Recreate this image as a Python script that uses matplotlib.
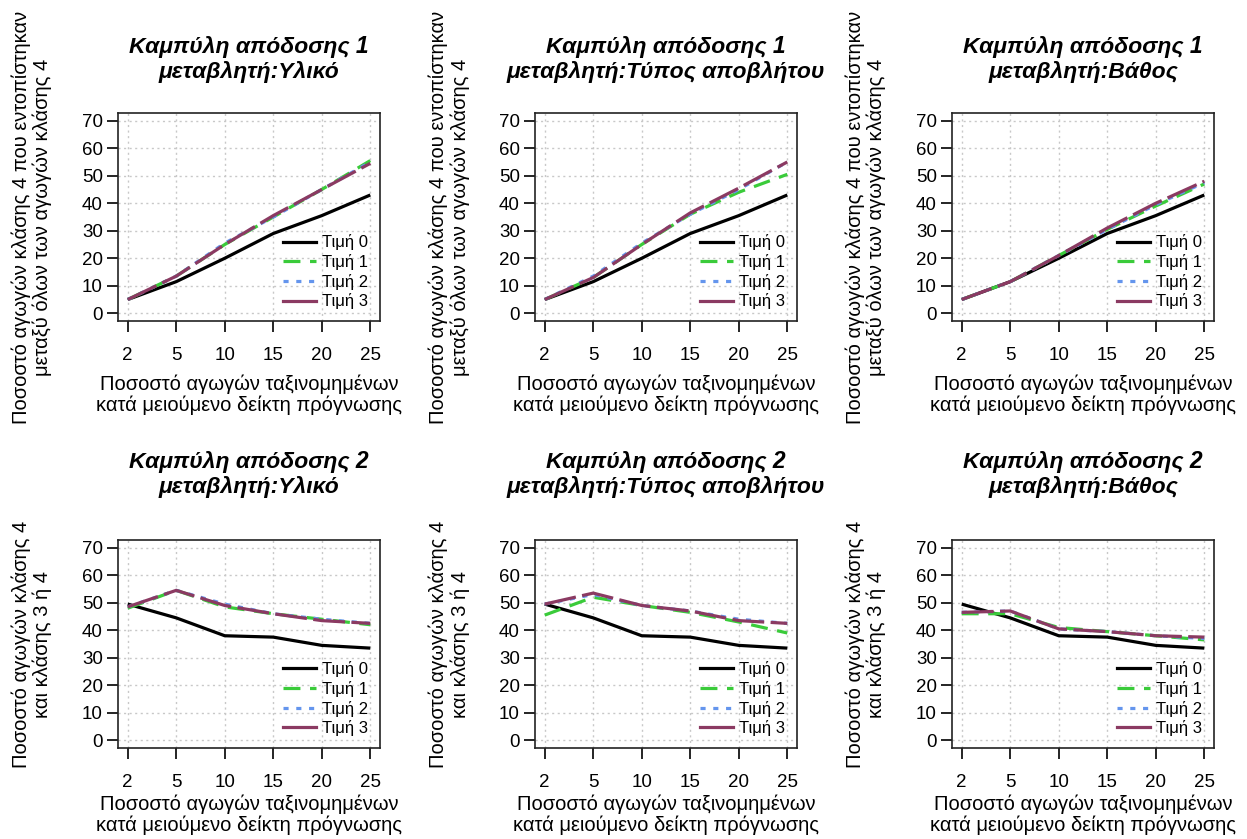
import matplotlib
matplotlib.use("Agg")
import matplotlib.pyplot as plt
from matplotlib.lines import Line2D

plt.rcParams['font.family'] = ['Liberation Sans', 'DejaVu Sans']

# x κατηγορίες (ποσοστό αγωγών)
x_labels = ["2", "5", "10", "15", "20", "25"]
legend_labels = ["Τιμή 0", "Τιμή 1", "Τιμή 2", "Τιμή 3"]
variables = ["Υλικό", "Τύπος αποβλήτου", "Βάθος"]

# Καμπύλη απόδοσης 1
c1_base = [5, 11.5, 20, 29, 35.5, 43]
c1_mat_1 = [5, 13.5, 25, 35, 45, 55.5]
c1_mat_2 = [5, 13.5, 25.5, 35, 45, 55]
c1_mat_3 = [5, 13.5, 25, 35.5, 45, 54.5]
c1_type_1 = [5, 13, 25, 36, 44, 50.5]
c1_type_2 = [5, 13.5, 25.5, 36, 45, 55]
c1_type_3 = [5, 13, 25, 36.5, 45.5, 55]
c1_depth_1 = [5, 11.5, 21, 30.5, 39, 47]
c1_depth_2 = [5, 11.5, 21, 30.5, 39.5, 47.5]
c1_depth_3 = [5, 11.5, 21, 31, 40, 48]

# Καμπύλη απόδοσης 2
c2_base = [49.5, 44.5, 38, 37.5, 34.5, 33.5]
c2_mat_1 = [48, 54.5, 48.5, 46, 44, 42]
c2_mat_2 = [48.5, 54.5, 49.5, 46, 44, 42.5]
c2_mat_3 = [48.5, 54.5, 49, 46, 43.5, 42.5]
c2_type_1 = [45.5, 52, 49, 46.5, 43, 39]
c2_type_2 = [49.5, 53, 49, 47, 44, 42.5]
c2_type_3 = [49.5, 53.5, 49, 47, 43.5, 42.5]
c2_depth_1 = [46, 46, 41, 39.5, 38, 36.5]
c2_depth_2 = [46.5, 47, 40.5, 39.5, 38, 37]
c2_depth_3 = [46.5, 47, 40.5, 39.5, 38, 37.5]

rows = [
    (c1_base, [(c1_mat_1, c1_mat_2, c1_mat_3),
               (c1_type_1, c1_type_2, c1_type_3),
               (c1_depth_1, c1_depth_2, c1_depth_3)]),
    (c2_base, [(c2_mat_1, c2_mat_2, c2_mat_3),
               (c2_type_1, c2_type_2, c2_type_3),
               (c2_depth_1, c2_depth_2, c2_depth_3)]),
]
titles = ["Καμπύλη απόδοσης 1", "Καμπύλη απόδοσης 2"]
ylabels = ["Ποσοστό αγωγών κλάσης 4 που εντοπίστηκαν\nμεταξύ όλων των αγωγών κλάσης 4",
           "Ποσοστό αγωγών κλάσης 4\nκαι κλάσης 3 ή 4"]
xlabel = "Ποσοστό αγωγών ταξινομημένων\nκατά μειούμενο δείκτη πρόγνωσης"

colors = ["black", "#3ACB3A", "#6495ED", "#8B3A62"]
styles = ["-", (0, (5.3, 3)), (0, (1.6, 2.4)), (0, (10, 2))]

W, H = 1247, 839
fig = plt.figure(figsize=(W / 100, H / 100), dpi=100)

lefts = [118, 535, 952]
bottoms = [321, 748]
ax_w, ax_h = 262, 208
title_pad = [25, 34]
xlab_y = [-0.255, -0.225]

xs = list(range(1, 7))
for r, (base, groups) in enumerate(rows):
    for c in range(3):
        ax = fig.add_axes([lefts[c] / W, 1 - bottoms[r] / H, ax_w / W, ax_h / H])
        series = [base] + list(groups[c])
        for i, ys in enumerate(series):
            ax.plot(xs, ys, color=colors[i], linestyle=styles[i], lw=2.3,
                    solid_capstyle='butt', dash_capstyle='butt', zorder=3 + i)
        ax.set_xlim(0.8, 6.2)
        ax.set_ylim(-2.8, 72.8)
        ax.set_xticks(xs)
        ax.set_xticklabels(x_labels)
        ax.set_yticks(range(0, 71, 10))
        ax.grid(True, color="#c8c8c8", linestyle=(0, (1.5, 2.5)), lw=1.0)
        ax.tick_params(direction='out', length=8, width=1.2, labelsize=13.5,
                       colors='black')
        ax.tick_params(axis='x', pad=11)
        ax.tick_params(axis='y', pad=3)
        for s in ax.spines.values():
            s.set_linewidth(1.2)
            s.set_color('#222222')
        ax.set_title(titles[r] + "\n" + "μεταβλητή:" + variables[c],
                     fontsize=16.5, fontweight='bold', style='italic',
                     pad=title_pad[r], linespacing=1.1)
        ax.set_xlabel(xlabel, fontsize=14.5, linespacing=1.1)
        ax.xaxis.set_label_coords(0.5, xlab_y[r])
        ax.set_ylabel(ylabels[r], fontsize=14.5, linespacing=1.15)
        ax.yaxis.set_label_coords(-0.25, 0.5)
        handles = [Line2D([], [], color=colors[i],
                          linestyle=(styles[i] if i in (1, 2) else '-'), lw=2.3)
                   for i in range(4)]
        ax.legend(handles, legend_labels, loc='lower right', frameon=False,
                  fontsize=12, handlelength=2.0, labelspacing=0.22,
                  handletextpad=0.35, borderaxespad=0.3)

fig.savefig("out.png", dpi=100)
